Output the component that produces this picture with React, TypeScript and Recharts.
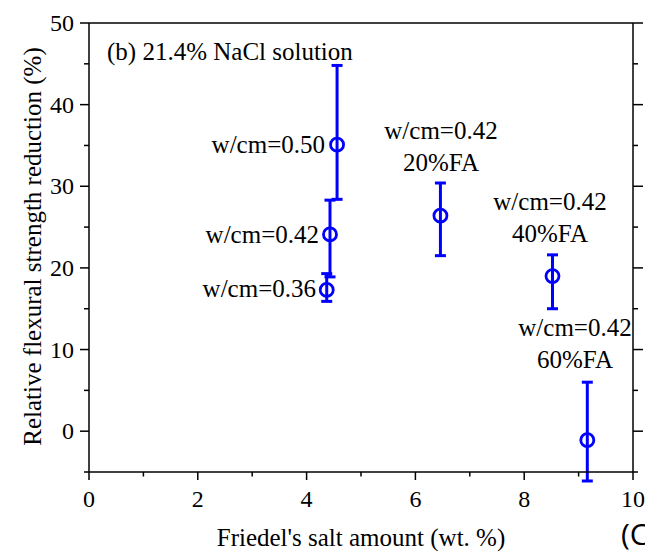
import { ScatterChart, Scatter, XAxis, YAxis, ErrorBar } from "recharts";

// one entry per mix
const mixes = ["w/cm=0.36", "w/cm=0.42", "w/cm=0.50", "w/cm=0.42 20%FA", "w/cm=0.42 40%FA", "w/cm=0.42 60%FA"];
const friedelSalt = [4.37, 4.43, 4.56, 6.46, 8.52, 9.16];
const strengthLoss = [17.3, 24.1, 35.1, 26.4, 19.0, -1.1];
const errMinus = [1.4, 5.2, 6.7, 4.9, 4.0, 5.0];
const errPlus = [2.0, 4.2, 9.7, 4.0, 2.6, 7.1];

const xTicks = [0, 1, 2, 3, 4, 5, 6, 7, 8, 9, 10];
const yTicks = [-5, 0, 5, 10, 15, 20, 25, 30, 35, 40, 45, 50];

const data = mixes.map((name, i) => ({
  name,
  x: friedelSalt[i],
  y: strengthLoss[i],
  err: [errMinus[i], errPlus[i]],
}));

const FONT = "Liberation Serif, Tinos, Times New Roman, DejaVu Serif, serif";
const BLUE = "#0000ff";
const AXIS = { stroke: "#000", strokeWidth: 1.5 };

const isMajorX = (v: number) => v % 2 === 0;
const isMajorY = (v: number) => v % 10 === 0;

const tickTxt = { fontSize: 24, fill: "#000", style: { fontFamily: FONT } };
const txt = { fontSize: 25, fill: "#000", style: { fontFamily: FONT } };

const BottomTick = ({ x, y, payload }: any) => {
  const major = isMajorX(payload.value);
  return (
    <g>
      <line x1={x} y1={y} x2={x} y2={y + (major ? 8 : 4.5)} {...AXIS} />
      {major && (
        <text x={x} y={y + 35} textAnchor="middle" {...tickTxt}>
          {payload.value}
        </text>
      )}
    </g>
  );
};

const TopTick = ({ x, y, payload }: any) => {
  const major = isMajorX(payload.value);
  return <line x1={x} y1={y} x2={x} y2={y - (major ? 9 : 4.5)} {...AXIS} />;
};

const LeftTick = ({ x, y, payload }: any) => {
  const major = isMajorY(payload.value);
  return (
    <g>
      <line x1={x} y1={y} x2={x - (major ? 9 : 5)} y2={y} {...AXIS} />
      {major && (
        <text x={x - 15} y={y + 8} textAnchor="end" {...tickTxt}>
          {payload.value}
        </text>
      )}
    </g>
  );
};

const RightTick = ({ x, y, payload }: any) => {
  const major = isMajorY(payload.value);
  return <line x1={x} y1={y} x2={x + (major ? 10 : 5)} y2={y} {...AXIS} />;
};

const Ring = (props: any) => (
  <circle cx={props.cx} cy={props.cy} r={6.5} fill="none" stroke={BLUE} strokeWidth={2.8} />
);

export default function App() {
  return (
    <div style={{ position: "absolute", left: 0, top: 0, width: 645, height: 551, background: "#fff", overflow: "hidden" }}>
      <ScatterChart width={645} height={551} margin={{ top: 0, right: 0, bottom: 0, left: 0 }}>
        <XAxis
          type="number"
          dataKey="x"
          domain={[0, 10]}
          ticks={xTicks}
          interval={0}
          allowDataOverflow
          height={79}
          tickSize={0}
          tickMargin={0}
          tick={<BottomTick />}
          axisLine={AXIS}
          label={{
            content: ({ viewBox }: any) => (
              <text x={viewBox.x + viewBox.width / 2} y={viewBox.y + 74} textAnchor="middle" {...txt}>
                Friedel's salt amount (wt. %)
              </text>
            ),
          }}
        />
        <XAxis
          xAxisId="top"
          orientation="top"
          type="number"
          domain={[0, 10]}
          ticks={xTicks}
          interval={0}
          allowDataOverflow
          height={23}
          tickSize={0}
          tickMargin={0}
          tick={<TopTick />}
          axisLine={AXIS}
        />
        <YAxis
          type="number"
          dataKey="y"
          domain={[-5, 50]}
          ticks={yTicks}
          interval={0}
          allowDataOverflow
          width={89}
          tickSize={0}
          tickMargin={0}
          tick={<LeftTick />}
          axisLine={AXIS}
          label={{
            content: ({ viewBox }: any) => {
              const cx = viewBox.x + 41;
              const cy = viewBox.y + viewBox.height / 2 - 1;
              return (
                <text x={cx} y={cy} transform={`rotate(-90 ${cx} ${cy})`} textAnchor="middle" {...txt}>
                  Relative flexural strength reduction (%)
                </text>
              );
            },
          }}
        />
        <YAxis
          yAxisId="right"
          orientation="right"
          type="number"
          domain={[-5, 50]}
          ticks={yTicks}
          interval={0}
          allowDataOverflow
          width={12}
          tickSize={0}
          tickMargin={0}
          tick={<RightTick />}
          axisLine={AXIS}
        />
        <Scatter data={data} dataKey="y" shape={<Ring />} isAnimationActive={false}>
          <ErrorBar dataKey="err" direction="y" width={5.5} strokeWidth={3} stroke={BLUE} isAnimationActive={false} />
        </Scatter>
      </ScatterChart>

      <svg width={645} height={551} style={{ position: "absolute", left: 0, top: 0, pointerEvents: "none" }}>
        <text x={107} y={60} {...txt}>(b) 21.4% NaCl solution</text>
        <text x={325} y={153} textAnchor="end" {...txt}>w/cm=0.50</text>
        <text x={319} y={243} textAnchor="end" {...txt}>w/cm=0.42</text>
        <text x={316} y={297} textAnchor="end" {...txt}>w/cm=0.36</text>
        <text x={441} y={139} textAnchor="middle" {...txt}>w/cm=0.42</text>
        <text x={441} y={171} textAnchor="middle" {...txt}>20%FA</text>
        <text x={550} y={210} textAnchor="middle" {...txt}>w/cm=0.42</text>
        <text x={550} y={242} textAnchor="middle" {...txt}>40%FA</text>
        <text x={575} y={336} textAnchor="middle" {...txt}>w/cm=0.42</text>
        <text x={575} y={368} textAnchor="middle" {...txt}>60%FA</text>
        <text x={621} y={545} fontSize={30} fill="#000" style={{ fontFamily: "Open Sans, Noto Sans, sans-serif" }}>(C</text>
      </svg>
    </div>
  );
}
